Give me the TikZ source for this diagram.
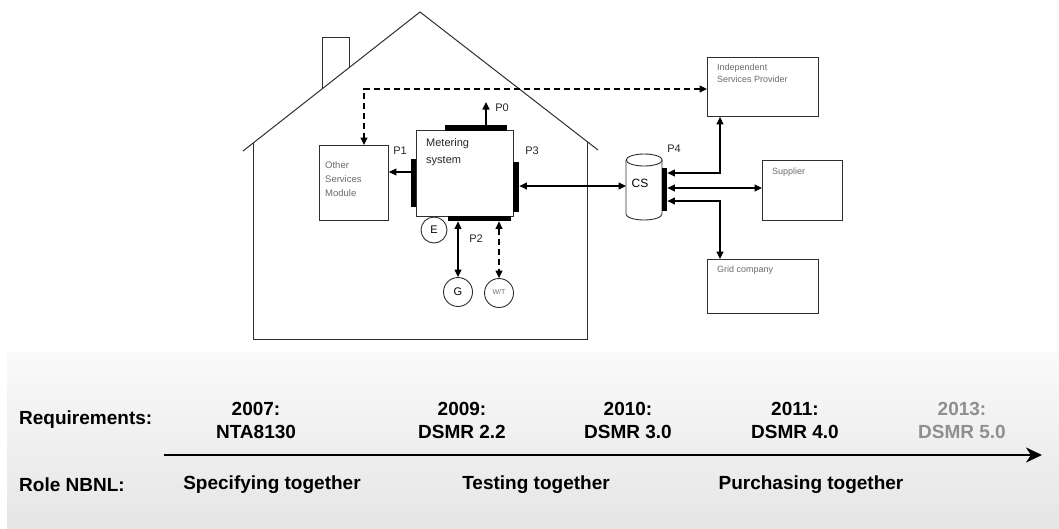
\documentclass[tikz,border=0pt]{standalone}
\usepackage{fontspec}
\setmainfont{Liberation Sans}
\usetikzlibrary{arrows.meta,calc}

\definecolor{ink}{gray}{0.18}
\definecolor{boxtext}{gray}{0.42}
\definecolor{future}{gray}{0.56}

\begin{document}
\begin{tikzpicture}[x=1pt,y=-1pt,
  >={Triangle[length=7.5pt,width=7pt]},
  house/.style={draw=ink, line width=1pt},
  wire/.style={draw=ink, line width=0.9pt},
  box/.style={wire, inner sep=0pt, anchor=north west},
  port/.style={fill=black, draw=none, inner sep=0pt, anchor=north west},
  meter/.style={circle, wire, inner sep=0pt, minimum size=#1},
  one/.style={draw=black, line width=1.1pt, ->},
  two/.style={draw=black, line width=1.1pt, <->},
  dashes/.style={dash pattern=on 6pt off 4pt},
  plabel/.style={font=\fontsize{11}{13}\selectfont, text=black!85, inner sep=0pt},
  boxlabel/.style={text=boxtext, inner sep=0pt, anchor=north west, align=left},
  tl/.style={font=\fontsize{19}{23}\selectfont\bfseries, align=center, inner sep=0pt}
]
\useasboundingbox (0,0) rectangle (1059,528);

% timeline band
\shade[top color=white!98!black, bottom color=black!10] (7,352) rectangle (1059,528);

% house outline
\draw[house] (243,151) -- (420,12) -- (598,150);
\draw[house] (253,143) -- (253,339) -- (587,339) -- (587,141.5);
\draw[house] (322,89) -- (322,37) -- (349,37) -- (349,68);

% boxes
\node[box, minimum width=69pt, minimum height=75pt] (osm) at (319,145) {};
\node[box, minimum width=97pt, minimum height=86pt] (ms) at (416,130) {};
\node[box, minimum width=111pt, minimum height=59pt] (isp) at (707,57) {};
\node[box, minimum width=80pt, minimum height=60pt] (sup) at (762,160) {};
\node[box, minimum width=111pt, minimum height=54pt] (grid) at (707,259) {};

\node[boxlabel, font=\fontsize{9.5}{14}\selectfont] (osmtext) at (325,161) {Other\\Services\\Module};
\node[boxlabel, font=\fontsize{11}{17}\selectfont, text=black!85] (mstext) at (426,138) {Metering\\system};
\node[boxlabel, font=\fontsize{9}{12}\selectfont] (isptext) at (717,64) {Independent\\Services Provider};
\node[boxlabel, font=\fontsize{9}{12}\selectfont] (suptext) at (772,168) {Supplier};
\node[boxlabel, font=\fontsize{9}{12}\selectfont] (gridtext) at (717,266) {Grid company};

% central system
\node[inner sep=0pt, minimum width=36pt, minimum height=66pt, anchor=north west] (cs) at (626,154) {};
\draw[wire] ($(cs.north)+(0,6)$) ellipse [x radius=18pt, y radius=6pt];
\draw[wire] ($(cs.north west)+(0,6)$) -- ++(0,54)
  arc[start angle=180, end angle=360, x radius=18pt, y radius=6pt] -- ++(0,-54);
\node[font=\fontsize{12}{14}\selectfont, inner sep=0pt] (cstext) at (640,183) {CS};

% ports
\node[port, minimum width=62pt, minimum height=6pt] (p0bar) at (445,125) {};
\node[port, minimum width=5pt, minimum height=48pt] (p1bar) at (411,159) {};
\node[port, minimum width=6pt, minimum height=50pt] (p3bar) at (513,162) {};
\node[port, minimum width=63pt, minimum height=5pt] (p2bar) at (448,216) {};
\node[port, minimum width=5pt, minimum height=43pt] (p4bar) at (662,168) {};

\node[plabel] (p0) at (502,108) {P0};
\node[plabel] (p1) at (400,151) {P1};
\node[plabel] (p3) at (532,151) {P3};
\node[plabel] (p2) at (476,239) {P2};
\node[plabel] (p4) at (674,149) {P4};

% meters
\node[meter=26pt, font=\fontsize{11}{13}\selectfont] (e) at (434,230) {E};
\node[meter=29pt, font=\fontsize{11}{13}\selectfont] (g) at (458,292) {G};
\node[meter=29pt, font=\fontsize{7}{8}\selectfont, text=boxtext] (wt) at (499,293) {\raisebox{3pt}{W/T}};

% connections
\coordinate (p0tip) at (486,102);
\draw[one] (p0bar.north -| p0tip) -- (p0tip);
\draw[one] (p1bar.west |- 0,172) -- (osm.east |- 0,172);
\draw[two] (p3bar.east |- 0,186) -- (cs.west |- 0,186);
\draw[two] (p2bar.south -| g) -- (g.north);
\draw[two, dashes] (p2bar.south -| wt) -- (wt.north);
\draw[two, dashes] (isp.west |- 0,89) -| (osm.north -| 364,0);
\draw[two] (p4bar.east |- 0,173) -| (isp.south -| 720,0);
\draw[two] (p4bar.east |- 0,188) -- (sup.west |- 0,188);
\draw[two] (p4bar.east |- 0,201) -| (grid.north -| 720,0);

% timeline
\node[tl, anchor=west] (req) at (19,420) {Requirements:};
\node[tl, anchor=west] (role) at (19,485) {Role NBNL:};
\node[tl] (y2007) at (256,420) {2007:\\NTA8130};
\node[tl] (y2009) at (462,420) {2009:\\DSMR 2.2};
\node[tl] (y2010) at (628,420) {2010:\\DSMR 3.0};
\node[tl] (y2011) at (795,420) {2011:\\DSMR 4.0};
\node[tl, text=future] (y2013) at (962,420) {2013:\\DSMR 5.0};
\node[tl] (spec) at (272,485) {Specifying together};
\node[tl] (test) at (536,485) {Testing together};
\node[tl] (purch) at (811,485) {Purchasing together};
\coordinate (t0) at (164,455);
\coordinate (t1) at (1042,455);
\draw[line width=2.6pt, -{Stealth[length=16pt,width=15pt,inset=5pt]}] (t0) -- (t1);
\end{tikzpicture}
\end{document}
